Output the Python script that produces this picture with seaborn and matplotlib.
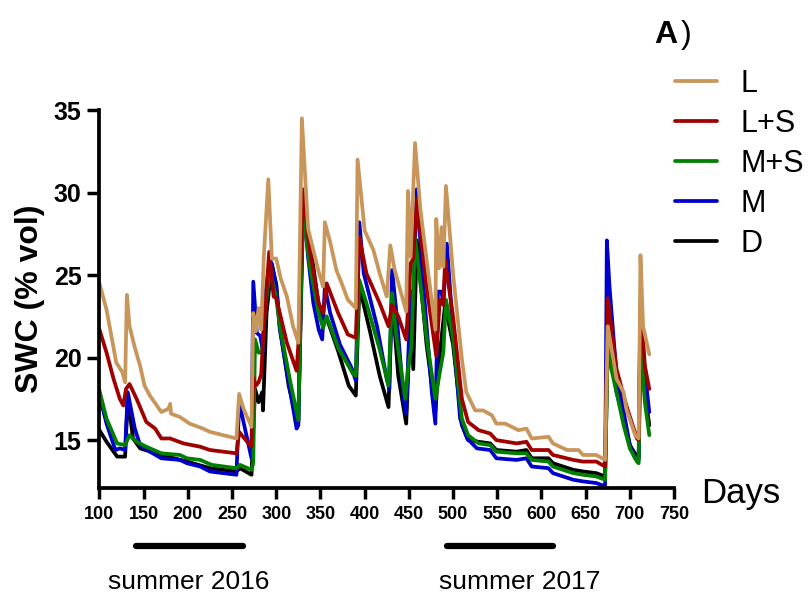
import numpy as np
import pandas as pd
import seaborn as sns
import matplotlib.pyplot as plt
import matplotlib.transforms as mtransforms

# Soil water content (% vol) per treatment
days_L = [100, 108, 119, 126, 129, 131, 134, 140, 146, 151, 157, 170, 178, 180, 181,
          191, 202, 217, 225, 240, 255, 258, 263, 272, 274, 277, 280, 283, 286, 291,
          295, 300, 305, 312, 319, 325, 329, 336, 342, 348, 353, 355, 361, 368, 374,
          381, 390, 392, 400, 410, 417, 425, 429, 434, 447, 449, 452, 457, 463, 472,
          480, 481, 484, 487, 489, 492, 500, 510, 515, 525, 534, 544, 549, 559, 574,
          583, 589, 608, 613, 629, 642, 647, 662, 672, 675, 685, 693, 696, 706, 710,
          712, 715, 722]
swc_L = [24.5, 22.9, 19.7, 19.1, 18.5, 23.8, 21.9, 20.6, 19.5, 18.3, 17.7, 16.7, 16.9, 17.2, 16.6,
         16.4, 16.0, 15.7, 15.5, 15.3, 15.1, 17.8, 16.9, 15.8, 22.7, 21.6, 23.0, 21.7, 26.2, 30.8,
         26.0, 26.0, 24.8, 23.7, 21.9, 20.9, 34.5, 27.8, 26.5, 25.2, 24.3, 28.2, 27.0, 25.3, 24.5,
         23.5, 23.0, 32.0, 27.7, 26.5, 25.1, 23.7, 26.8, 25.3, 22.8, 30.1, 26.1, 33.0, 29.0, 25.1,
         21.7, 28.4, 25.4, 27.9, 25.5, 30.4, 25.1, 19.9, 17.9, 16.8, 16.8, 16.5, 16.0, 16.0, 15.6,
         15.7, 15.1, 15.2, 14.8, 14.4, 14.4, 14.1, 14.1, 13.8, 21.9, 18.7, 17.9, 16.9, 15.3, 15.1,
         26.2, 21.9, 20.2]

days_LS = [100, 108, 116, 123, 127, 130, 134, 142, 153, 163, 170, 180, 195, 214, 225,
           255, 258, 270, 272, 274, 277, 280, 283, 285, 292, 297, 300, 304, 312, 323,
           325, 330, 338, 348, 353, 357, 370, 381, 390, 394, 402, 417, 427, 431, 438,
           447, 452, 455, 459, 470, 481, 485, 489, 491, 500, 510, 517, 529, 542, 549,
           572, 583, 589, 608, 613, 636, 647, 662, 672, 675, 685, 696, 708, 710, 712,
           717, 722]
swc_LS = [21.7, 20.3, 18.7, 17.5, 17.1, 18.1, 18.4, 17.5, 16.1, 15.7, 15.1, 15.1, 14.8, 14.6, 14.4,
          14.2, 15.5, 14.7, 14.6, 18.8, 18.3, 18.5, 19.0, 21.0, 26.4, 23.7, 23.6, 22.7, 20.9, 19.2,
          20.8, 30.2, 26.5, 23.3, 22.7, 24.5, 22.7, 21.4, 21.2, 27.3, 25.1, 23.3, 21.9, 23.2, 22.5,
          21.1, 25.7, 26.0, 29.6, 24.3, 20.1, 23.5, 23.2, 25.9, 22.5, 17.5, 16.1, 15.6, 15.4, 15.0,
          14.8, 14.9, 14.4, 14.4, 14.1, 13.8, 13.7, 13.7, 13.4, 23.6, 19.3, 17.1, 15.1, 15.0, 23.5,
          19.5, 18.1]

days_MS = [100, 108, 120, 129, 134, 142, 153, 170, 191, 199, 214, 227, 255, 259, 272,
           274, 276, 280, 284, 287, 293, 300, 304, 316, 325, 330, 338, 348, 353, 357,
           370, 387, 390, 394, 402, 417, 427, 431, 436, 446, 449, 453, 457, 470, 480,
           485, 489, 492, 500, 510, 517, 529, 542, 549, 572, 583, 589, 608, 613, 636,
           647, 662, 672, 675, 677, 685, 693, 700, 708, 710, 712, 717, 722]
swc_MS = [18.0, 16.3, 14.8, 14.7, 15.3, 14.9, 14.6, 14.2, 14.1, 13.9, 13.8, 13.5, 13.3, 13.5, 13.2,
          13.6, 21.1, 20.3, 20.3, 22.7, 25.3, 23.6, 21.9, 18.5, 16.2, 29.0, 25.5, 22.7, 21.8, 22.5,
          20.6, 19.0, 18.9, 24.7, 23.3, 20.5, 18.3, 23.9, 21.2, 17.5, 19.3, 20.7, 27.3, 21.2, 17.5,
          19.1, 20.3, 23.5, 21.2, 16.3, 15.3, 14.8, 14.7, 14.3, 14.2, 14.2, 13.8, 13.7, 13.4, 13.0,
          12.9, 12.8, 12.6, 20.9, 19.8, 17.9, 15.9, 14.5, 13.7, 13.6, 21.0, 17.3, 15.3]

days_M = [100, 108, 118, 123, 129, 132, 140, 146, 157, 170, 191, 199, 214, 225, 255,
          258, 272, 274, 278, 282, 285, 287, 293, 300, 304, 316, 323, 325, 330, 336,
          342, 348, 352, 355, 361, 372, 385, 390, 394, 399, 414, 425, 428, 431, 436,
          444, 447, 452, 455, 459, 466, 476, 480, 483, 487, 489, 493, 500, 508, 516,
          527, 542, 549, 572, 583, 589, 608, 613, 636, 647, 662, 672, 674, 677, 685,
          691, 700, 706, 710, 712, 717, 722]
swc_M = [17.7, 16.0, 14.4, 14.5, 14.4, 17.9, 15.7, 14.7, 14.3, 13.9, 13.8, 13.6, 13.4, 13.1, 12.9,
         17.3, 13.9, 24.6, 21.5, 21.3, 20.3, 23.5, 26.0, 24.4, 21.7, 17.9, 15.7, 15.9, 29.8, 26.1,
         23.3, 21.7, 21.1, 24.3, 22.7, 20.8, 19.4, 18.6, 28.2, 25.1, 21.9, 18.7, 18.1, 25.3, 22.7,
         17.5, 16.6, 24.0, 23.8, 30.2, 24.7, 17.9, 16.0, 24.0, 24.0, 23.2, 26.9, 21.6, 16.3, 15.1,
         14.5, 14.4, 13.9, 13.8, 13.9, 13.4, 13.3, 13.0, 12.6, 12.5, 12.4, 12.2, 27.1, 24.3, 18.9,
         17.3, 14.7, 13.9, 13.8, 22.7, 19.1, 16.7]

days_D = [100, 108, 120, 129, 132, 138, 146, 170, 199, 225, 255, 259, 272, 276, 280,
          284, 285, 289, 295, 300, 304, 314, 323, 325, 330, 338, 348, 353, 357, 370,
          382, 390, 394, 406, 417, 427, 431, 438, 447, 452, 455, 459, 470, 480, 484,
          491, 500, 510, 517, 529, 542, 549, 572, 583, 589, 608, 613, 636, 647, 662,
          672, 675, 685, 693, 700, 708, 710, 712, 717, 722]
swc_D = [15.6, 14.9, 14.0, 14.0, 17.6, 15.1, 14.5, 14.1, 13.7, 13.3, 13.1, 13.3, 12.9, 18.1, 17.3,
         17.9, 16.8, 22.7, 25.7, 24.4, 21.9, 18.3, 16.3, 16.1, 28.0, 27.0, 23.2, 22.4, 22.4, 20.4,
         18.3, 17.7, 24.3, 21.6, 18.9, 17.0, 23.7, 18.9, 16.0, 22.7, 19.3, 27.1, 20.8, 16.7, 19.7,
         23.2, 20.8, 15.9, 15.0, 14.9, 14.8, 14.4, 14.3, 14.4, 13.9, 13.9, 13.6, 13.2, 13.1, 13.0,
         12.8, 21.0, 17.9, 16.3, 14.7, 14.0, 14.0, 22.5, 17.9, 15.9]

treatments = ['L', 'L+S', 'M+S', 'M', 'D']
colors = ['#C8965A', '#A00000', '#008000', '#0000CC', '#000000']

summer_labels = ['summer 2016', 'summer 2017']
summer_start = [141, 493]
summer_end = [262, 613]
summer_text_x = [201, 576]

series = {'L': (days_L, swc_L), 'L+S': (days_LS, swc_LS), 'M+S': (days_MS, swc_MS),
          'M': (days_M, swc_M), 'D': (days_D, swc_D)}
frames = []
for name, (d, v) in series.items():
    frames.append(pd.DataFrame({'Days': d, 'SWC': v, 'Treatment': name}))
df = pd.concat(frames, ignore_index=True)

sns.set_style('ticks', {'axes.edgecolor': 'black', 'text.color': 'black',
                        'axes.labelcolor': 'black', 'xtick.color': 'black',
                        'ytick.color': 'black'})
plt.rcParams['font.family'] = ['Liberation Sans', 'DejaVu Sans']

fig = plt.figure(figsize=(8.08, 5.97), dpi=100)
ax = fig.add_axes([0.1231, 0.1826, 0.7111, 0.6331])

# draw D first so L ends up on top
order = treatments[::-1]
pal = dict(zip(treatments, colors))
sns.lineplot(data=df, x='Days', y='SWC', hue='Treatment', hue_order=order,
             palette=pal, estimator=None, sort=False, linewidth=2.7, ax=ax)

ax.set_xlim(100, 750)
ax.set_ylim(12.1, 35)
ax.set_xticks(np.arange(100, 751, 50))
ax.set_yticks([15, 20, 25, 30, 35])
ax.tick_params(axis='x', labelsize=13, width=2.5, length=8, pad=5, colors='black')
ax.tick_params(axis='y', labelsize=18, width=2.5, length=9, pad=4, colors='black')
for lab in ax.get_xticklabels() + ax.get_yticklabels():
    lab.set_fontweight('bold')
for s in ['left', 'bottom']:
    ax.spines[s].set_linewidth(2.7)
    ax.spines[s].set_color('black')
sns.despine(ax=ax)

ax.set_xlabel('')
ax.set_ylabel('SWC (% vol)', fontsize=23, fontweight='bold', labelpad=6, color='black')
fig.text(0.868, 0.157, 'Days', fontsize=25, ha='left', va='baseline', color='black')

# legend in original order
handles, labels = ax.get_legend_handles_labels()
hmap = dict(zip(labels, handles))
leg = ax.legend([hmap[t] for t in treatments], treatments, loc='upper left',
                bbox_to_anchor=(0.836, 0.885), bbox_transform=fig.transFigure,
                frameon=False, fontsize=22, handlelength=1.37, handletextpad=0.75,
                labelspacing=0.33, borderpad=0, borderaxespad=0)
for t in leg.get_texts():
    t.set_color('black')

fig.text(0.810, 0.942, 'A', fontsize=23, fontweight='bold', ha='left', va='center', color='black')
fig.text(0.843, 0.942, ')', fontsize=23, ha='left', va='center', color='black')

# summer periods below the axis
trans = mtransforms.blended_transform_factory(ax.transData, ax.transAxes)
for lab, s0, s1, tx in zip(summer_labels, summer_start, summer_end, summer_text_x):
    ax.plot([s0, s1], [-0.153, -0.153], color='black', linewidth=4.5,
            solid_capstyle='round', transform=trans, clip_on=False)
    ax.text(tx, -0.249, lab, fontsize=19, ha='center', va='center', transform=trans,
            color='black')

fig.savefig('out.png', dpi=100)
